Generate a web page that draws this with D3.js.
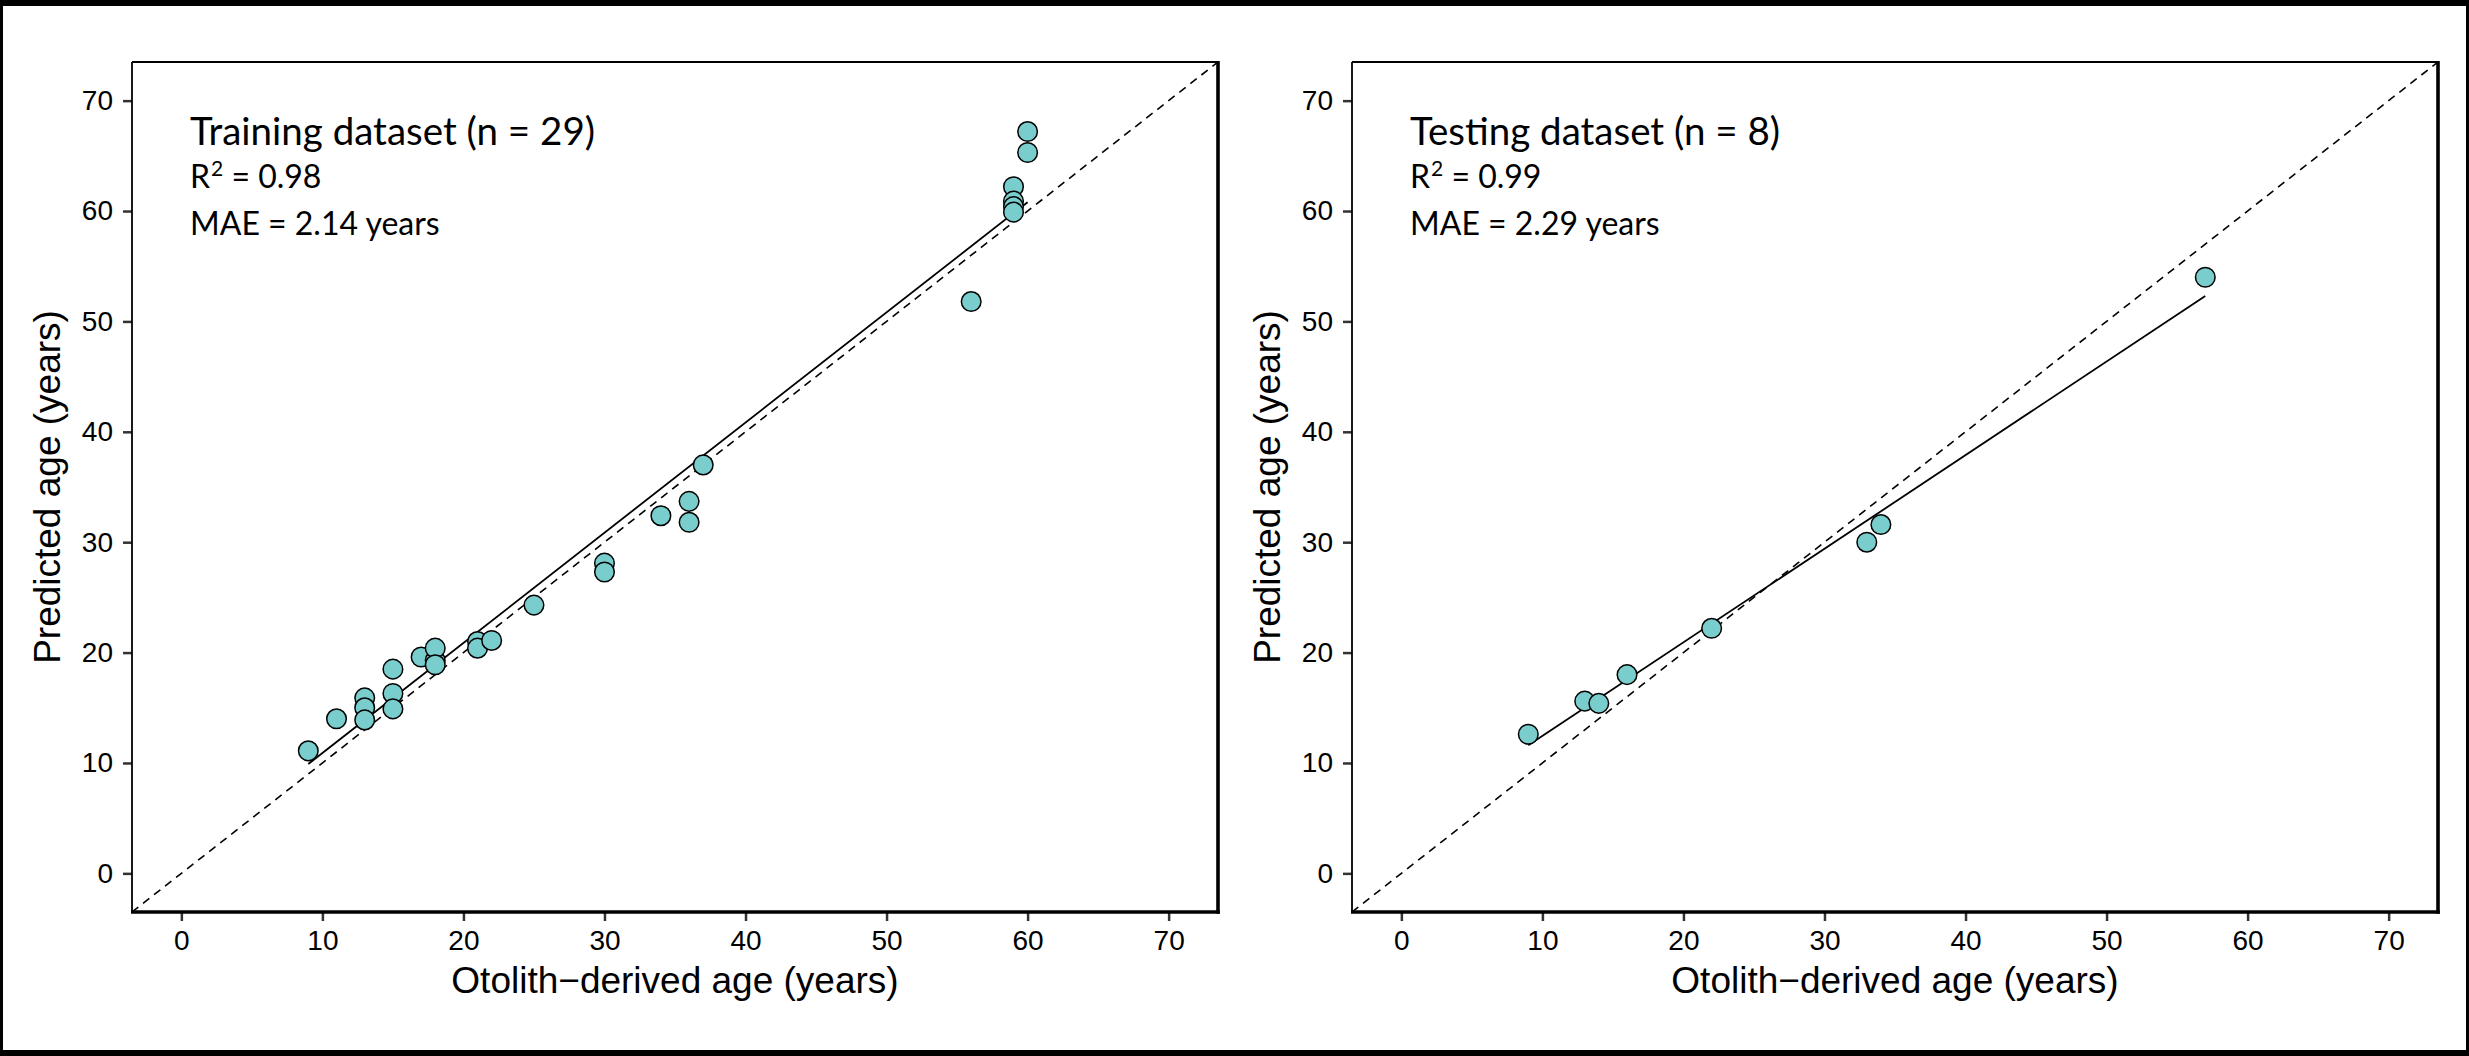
<!DOCTYPE html>
<head>
    <meta charset="utf-8">
    <title>Predicted vs otolith-derived age</title>
    <script src="https://d3js.org/d3.v7.min.js"></script>
    <style>
        body {
            margin: 0;
            background: #fff;
        }

        svg {
            display: block;
        }

        .tick text {
            font-family: "Liberation Sans", Arial, sans-serif;
            font-size: 28px;
            fill: #000;
        }

        .tick line {
            stroke: #333;
            stroke-width: 2.5px;
        }

        .axis-title {
            font-family: "Liberation Sans", Arial, sans-serif;
            font-size: 37px;
            fill: #000;
        }

        .note {
            font-family: Lato, "Open Sans", sans-serif;
            fill: #000;
        }
    </style>
</head>

<body>
    <svg id="chart" width="2469" height="1056"></svg>
    <script>
        // values
        var ticks = [0, 10, 20, 30, 40, 50, 60, 70];

        var trainX = [9, 11, 13, 13, 13, 15, 15, 15, 17, 18, 18, 18, 21, 21, 22, 25,
            30, 30, 34, 36, 36, 37, 56, 59, 59, 59, 59, 60, 60];
        var trainY = [11.1, 14.0, 15.9, 15.0, 13.9, 18.5, 16.3, 14.9, 19.6, 19.3, 20.4, 18.9, 21.0, 20.4, 21.1, 24.3,
            28.1, 27.3, 32.4, 33.7, 31.8, 37.0, 51.8, 62.2, 60.9, 60.4, 59.9, 67.2, 65.3];
        var trainFitX = [9, 60];
        var trainFitY = [9.9, 60.8];

        var testX = [9, 13, 14, 16, 22, 33, 34, 57];
        var testY = [12.6, 15.6, 15.4, 18.0, 22.2, 30.0, 31.6, 54.0];
        var testFitX = [9, 57];
        var testFitY = [11.6, 52.3];

        (function () {
            var panels = [
                { left: 132, title: "Training dataset (n = 29)", r2: "0.98", mae: "2.14", xs: trainX, ys: trainY, fx: trainFitX, fy: trainFitY },
                { left: 1352, title: "Testing dataset (n = 8)", r2: "0.99", mae: "2.29", xs: testX, ys: testY, fx: testFitX, fy: testFitY }
            ];

            var svg = d3.select("#chart");
            svg.append("rect").attr("width", 2469).attr("height", 1056).attr("fill", "#fff");

            var pw = 1086, panelTop = 62, ph = 850;
            var domain = [-3.5, 73.5];

            panels.forEach(function (p, i) {
                var x = d3.scaleLinear().domain(domain).range([0, pw]);
                var y = d3.scaleLinear().domain(domain).range([ph, 0]);
                var g = svg.append("g").attr("transform", "translate(" + p.left + "," + panelTop + ")");

                var clipId = "clip" + i;
                g.append("clipPath").attr("id", clipId)
                    .append("rect").attr("width", pw).attr("height", ph);

                var plot = g.append("g").attr("clip-path", "url(#" + clipId + ")");

                // 1:1 reference line
                plot.append("line")
                    .attr("x1", x(domain[0])).attr("y1", y(domain[0]))
                    .attr("x2", x(domain[1])).attr("y2", y(domain[1]))
                    .attr("stroke", "#000").attr("stroke-width", 1.6)
                    .attr("stroke-dasharray", "8,6");

                // fitted line
                var line = d3.line()
                    .x(function (d) { return x(d[0]); })
                    .y(function (d) { return y(d[1]); });
                plot.append("path")
                    .datum(d3.zip(p.fx, p.fy))
                    .attr("d", line)
                    .attr("fill", "none")
                    .attr("stroke", "#000")
                    .attr("stroke-width", 1.8);

                plot.selectAll("circle")
                    .data(d3.zip(p.xs, p.ys))
                    .enter().append("circle")
                    .attr("cx", function (d) { return x(d[0]); })
                    .attr("cy", function (d) { return y(d[1]); })
                    .attr("r", 9.8)
                    .attr("fill", "#79CDCD")
                    .attr("stroke", "#000")
                    .attr("stroke-width", 1.5);

                // axes
                var xa = g.append("g").attr("transform", "translate(0," + ph + ")")
                    .call(d3.axisBottom(x).tickValues(ticks).tickSize(9).tickPadding(9));
                var ya = g.append("g")
                    .call(d3.axisLeft(y).tickValues(ticks).tickSize(9).tickPadding(10));
                xa.select(".domain").remove();
                ya.select(".domain").remove();
                xa.selectAll(".tick line").attr("stroke", null);
                ya.selectAll(".tick line").attr("stroke", null);
                xa.selectAll(".tick text").attr("fill", null);
                ya.selectAll(".tick text").attr("fill", null);

                // frame: thin top/left, heavier bottom/right
                g.append("line").attr("x1", 0).attr("x2", pw).attr("y1", 0).attr("y2", 0)
                    .attr("stroke", "#000").attr("stroke-width", 1.8);
                g.append("line").attr("x1", 0).attr("x2", 0).attr("y1", 0).attr("y2", ph)
                    .attr("stroke", "#000").attr("stroke-width", 1.8);
                g.append("line").attr("x1", -1).attr("x2", pw + 1.8).attr("y1", ph).attr("y2", ph)
                    .attr("stroke", "#000").attr("stroke-width", 3.6);
                g.append("line").attr("x1", pw).attr("x2", pw).attr("y1", -1).attr("y2", ph + 1.8)
                    .attr("stroke", "#000").attr("stroke-width", 3.6);

                // axis titles
                g.append("text").attr("class", "axis-title")
                    .attr("x", pw / 2).attr("y", 931)
                    .attr("text-anchor", "middle")
                    .text("Otolith\u2212derived age (years)");
                g.append("text").attr("class", "axis-title")
                    .attr("transform", "translate(-72," + (ph / 2) + ") rotate(-90)")
                    .attr("text-anchor", "middle")
                    .text("Predicted age (years)");

                // annotation
                g.append("text").attr("class", "note")
                    .attr("x", 58).attr("y", 83)
                    .style("font-size", "38.5px")
                    .text(p.title);
                var r2 = g.append("text").attr("class", "note")
                    .attr("x", 58).attr("y", 126)
                    .style("font-size", "32px");
                r2.append("tspan").text("R");
                r2.append("tspan").attr("dy", -12).attr("dx", 1).style("font-size", "21px").text("2");
                r2.append("tspan").attr("dy", 12).text(" = " + p.r2);
                g.append("text").attr("class", "note")
                    .attr("x", 58).attr("y", 173)
                    .style("font-size", "32px")
                    .text("MAE = " + p.mae + " years");
            });

            // outer black border
            svg.append("rect").attr("x", 0).attr("y", 0).attr("width", 2469).attr("height", 6).attr("fill", "#000");
            svg.append("rect").attr("x", 0).attr("y", 1050).attr("width", 2469).attr("height", 6).attr("fill", "#000");
            svg.append("rect").attr("x", 0).attr("y", 0).attr("width", 3).attr("height", 1056).attr("fill", "#000");
            svg.append("rect").attr("x", 2466).attr("y", 0).attr("width", 3).attr("height", 1056).attr("fill", "#000");
        })();
    </script>
</body>
